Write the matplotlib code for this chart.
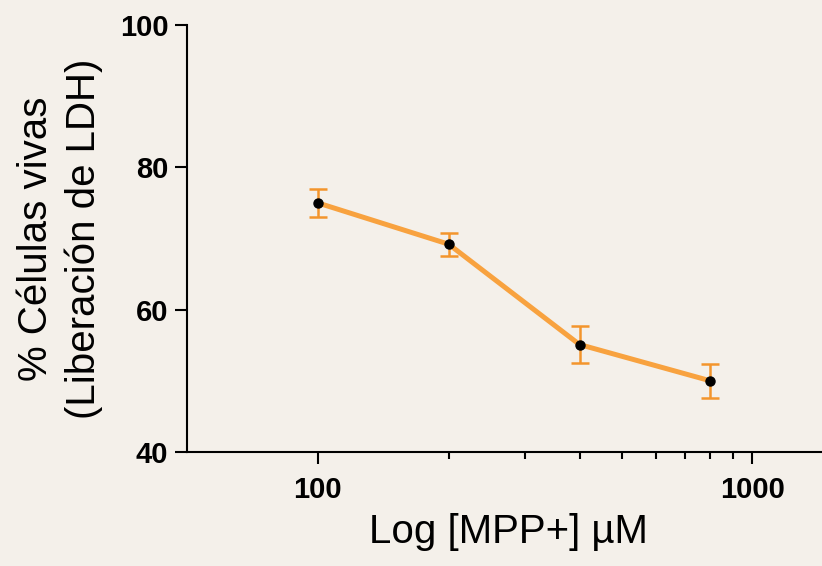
#Curva dosis-respuesta MPP+ (LDH)
import matplotlib.pyplot as plt
from matplotlib.ticker import FixedLocator, NullFormatter

dosis = [100, 200, 400, 800]
vivas = [75.0, 69.2, 55.1, 50.0]
error = [2.0, 1.6, 2.6, 2.4]
y_ticks = [40, 60, 80, 100]
x_ticks = [100, 1000]
x_minor = [200, 300, 400, 500, 600, 700, 800, 900]

fondo = '#F4F0EA'
naranja = '#F8A23F'
naranja_err = '#F3952C'

plt.rcParams['font.family'] = ['Liberation Sans', 'DejaVu Sans']

f = plt.figure(figsize=(8.22, 5.66), dpi=100, facecolor=fondo)
ax = f.add_axes([187/822, 114/566, (829-187)/822, (452-25)/566])
ax.set_facecolor(fondo)

ax.plot(dosis, vivas, '-', color=naranja, lw=3.6, zorder=2)
ax.errorbar(dosis, vivas, yerr=error, fmt='none', ecolor=naranja_err,
            elinewidth=1.8, capsize=6.5, capthick=1.8, zorder=3)
ax.plot(dosis, vivas, 'o', color='black', ms=6.5, zorder=4)

ax.set_xscale('log')
ax.set_xlim(50, 1500)
ax.set_ylim(40, 100)
ax.xaxis.set_major_locator(FixedLocator(x_ticks))
ax.xaxis.set_minor_locator(FixedLocator(x_minor))
ax.xaxis.set_minor_formatter(NullFormatter())
ax.set_xticklabels([str(v) for v in x_ticks])
ax.set_yticks(y_ticks)

for s in ['top', 'right']:
    ax.spines[s].set_visible(False)
for s in ['left', 'bottom']:
    ax.spines[s].set_linewidth(1.5)

ax.tick_params(axis='both', which='major', length=8.5, width=1.5, labelsize=21)
ax.tick_params(axis='x', which='major', pad=9)
ax.tick_params(axis='y', which='major', pad=5)
ax.tick_params(axis='x', which='minor', length=5, width=1.5)
for t in ax.get_xticklabels() + ax.get_yticklabels():
    t.set_fontweight('bold')

ax.set_xlabel('Log [MPP+] µM', fontsize=29, labelpad=6)
ax.set_ylabel('% Células vivas\n(Liberación de LDH)', fontsize=29, labelpad=12,
              linespacing=1.3)

plt.savefig('out.png', dpi=100, facecolor=fondo)
